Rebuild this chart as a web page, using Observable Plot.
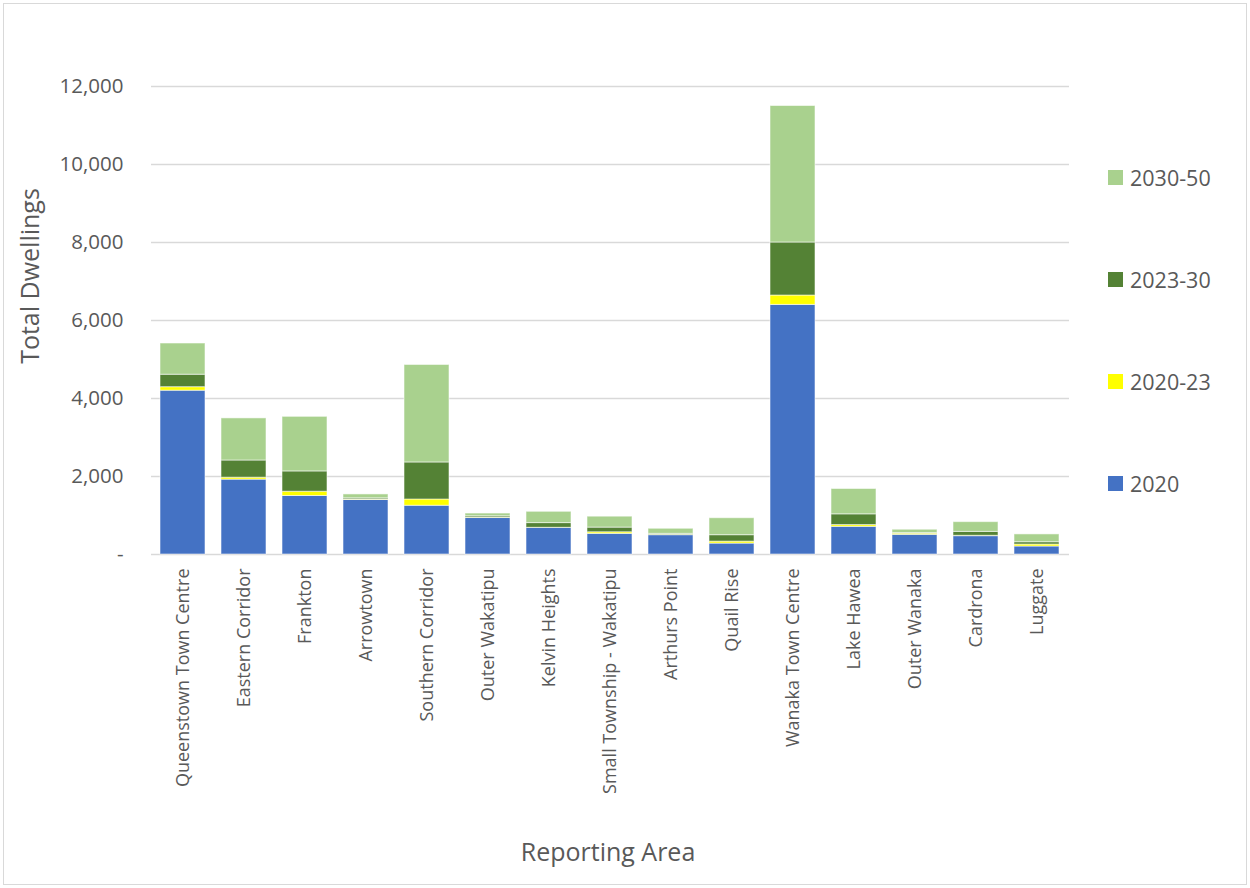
<!DOCTYPE html>
<html>
<head>
<meta charset="utf-8">
<script src="https://cdn.jsdelivr.net/npm/d3@7"></script>
<script src="https://cdn.jsdelivr.net/npm/@observablehq/plot@0.6"></script>
<style>
  html, body { margin: 0; padding: 0; background: #fff; }
  #chart {
    position: relative; width: 1250px; height: 888px; overflow: hidden;
    font-family: "Open Sans", "Noto Sans", sans-serif; color: #595959;
  }
  #frame {
    position: absolute; left: 3px; top: 3px; width: 1242px; height: 880px;
    border: 1px solid #d9d9d9; pointer-events: none;
  }
  #chart svg { position: absolute; left: 0; top: 0; }
  .axis-title { position: absolute; font-size: 25px; white-space: nowrap; }
  #ytitle { left: 29px; top: 276px; transform: translate(-50%, -50%) rotate(-90deg); }
  #xtitle { left: 608px; top: 851px; transform: translate(-50%, -50%); }
  #legend {
    position: absolute; left: 1108px; top: 166px;
    display: flex; flex-direction: column; gap: 80.3px;
  }
  .item { display: flex; align-items: center; height: 22px; font-size: 21.5px; }
  .sw { width: 15px; height: 15px; margin-right: 7px; }
</style>
</head>
<body>
<div id="chart">
  <div id="frame"></div>
  <div id="ytitle" class="axis-title">Total Dwellings</div>
  <div id="xtitle" class="axis-title">Reporting Area</div>
  <div id="legend"></div>
</div>
<script>
// Reporting areas along the x axis
const areas = [
  "Queenstown Town Centre", "Eastern Corridor", "Frankton", "Arrowtown",
  "Southern Corridor", "Outer Wakatipu", "Kelvin Heights",
  "Small Township - Wakatipu", "Arthurs Point", "Quail Rise",
  "Wanaka Town Centre", "Lake Hawea", "Outer Wanaka", "Cardrona", "Luggate"
];

// Stack periods, bottom to top
const periods = ["2020", "2020-23", "2023-30", "2030-50"];
const periodColors = ["#4472C4", "#FFFF00", "#548235", "#A9D18E"];

// Dwellings per area for each period
const dw2020    = [4200, 1920, 1500, 1400, 1250, 935, 680, 530, 495, 280, 6400, 710, 505, 470, 205];
const dw2020_23 = [  90,   50,  110,   10,  160,  10,   5,  40,  10,  50,  240,  45,  30,  10,  50];
const dw2023_30 = [ 320,  440,  520,   30,  950,  35, 120, 120,  25, 165, 1360, 275,  15, 100,  60];
const dw2030_50 = [ 800, 1080, 1400,  100, 2500,  70, 290, 280, 130, 435, 3500, 650,  85, 250, 200];

// Y axis ticks
const yTicks = [0, 2000, 4000, 6000, 8000, 10000, 12000];

const seriesValues = [dw2020, dw2020_23, dw2023_30, dw2030_50];
const rows = [];
periods.forEach((p, i) => {
  areas.forEach((a, j) => rows.push({area: a, period: p, value: seriesValues[i][j]}));
});

const fmt = d3.format(",");

const plot = Plot.plot({
  width: 1250,
  height: 888,
  marginLeft: 151,
  marginRight: 181,
  marginTop: 86,
  marginBottom: 334,
  style: {fontFamily: '"Open Sans", "Noto Sans", sans-serif', color: "#595959", background: "transparent"},
  x: {domain: areas, paddingInner: 0.26, paddingOuter: 0.13, label: null},
  y: {domain: [0, 12000], label: null},
  color: {domain: periods, range: periodColors},
  marks: [
    Plot.gridY(yTicks, {stroke: "#d9d9d9", strokeOpacity: 1, strokeWidth: 1.3}),
    Plot.barY(rows, {
      x: "area", y: "value", fill: "period",
      z: "period", order: periods,
      stroke: "#ffffff", strokeOpacity: 0.55, strokeWidth: 1
    }),
    Plot.axisY({
      ticks: yTicks, tickSize: 0, tickPadding: 28, fontSize: 20.5,
      tickFormat: d => d === 0 ? "-" : fmt(d), label: null
    }),
    Plot.axisX({
      tickSize: 0, tickPadding: 14, tickRotate: -90, fontSize: 18, label: null
    })
  ]
});

document.getElementById("chart").appendChild(plot);

// Legend, top entry is the top of the stack
const legend = document.getElementById("legend");
periods.slice().reverse().forEach(p => {
  const item = document.createElement("div");
  item.className = "item";
  const sw = document.createElement("div");
  sw.className = "sw";
  sw.style.background = periodColors[periods.indexOf(p)];
  const label = document.createElement("span");
  label.textContent = p;
  item.appendChild(sw);
  item.appendChild(label);
  legend.appendChild(item);
});
</script>
</body>
</html>
